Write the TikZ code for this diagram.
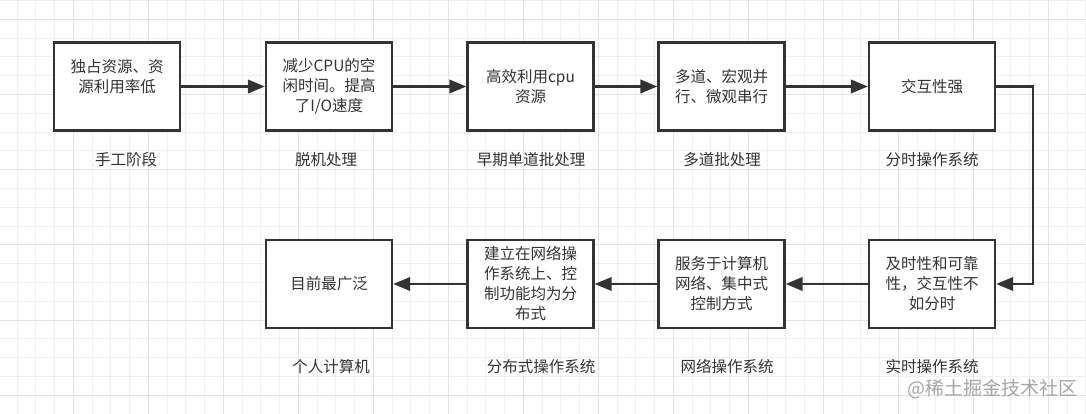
\documentclass[tikz,border=0pt]{standalone}
\usepackage{fontspec}
\setmainfont{Noto Sans CJK SC}
\usetikzlibrary{arrows.meta}
\definecolor{griglia}{HTML}{F0F0F0}
\definecolor{grigliamaj}{HTML}{E2E2E2}
\definecolor{tratto}{HTML}{333333}
\definecolor{testo}{HTML}{333333}
\tikzset{
	box/.style={draw=tratto, line width=2.4pt, fill=white, minimum width=126pt, minimum height=88pt, inner sep=0pt, align=center, text=testo, font=\fontsize{15.5}{20}\selectfont},
	caption/.style={text=testo, font=\fontsize{15.5}{20}\selectfont},
	freccia/.style={draw=tratto, line width=2.4pt, -{Triangle[length=17pt,width=13.5pt]}},
}
\begin{document}
\begin{tikzpicture}[x=1pt,y=-1pt]
		\useasboundingbox (0,0) rectangle (1086,414);
		\fill[white] (0,0) rectangle (1086,414);
		
		%GRIGLIA
		\foreach \i in {0,...,58} \draw[griglia, line width=1pt] ({-1.7+18.75*\i},0) -- ({-1.7+18.75*\i},414);
		\foreach \j in {0,...,22} \draw[griglia, line width=1pt] (0,{0.5+18.8*\j}) -- (1086,{0.5+18.8*\j});
		\foreach \i in {0,...,14} \draw[grigliamaj, line width=1pt] ({-1.7+75*\i},0) -- ({-1.7+75*\i},414);
		\foreach \j in {0,...,5} \draw[grigliamaj, line width=1pt] (0,{19.3+75.2*\j}) -- (1086,{19.3+75.2*\j});
		
		%RIQUADRI SOPRA
		\node[box] (manuale) at (117,86.5) {独占资源、资\\源利用率低\\\phantom{资}};
		\node[box] (offline) at (329,86.5) {减少CPU的空\\闲时间。提高\\了I/O速度};
		\node[box] (batch) at (530.5,86.5) {高效利用cpu\\资源};
		\node[box] (multi) at (721.5,86.5) {多道、宏观并\\行、微观串行};
		\node[box] (tempo) at (932,86.5) {交互性强};
		
		%RIQUADRI SOTTO
		\node[box] (reale) at (932,284) {及时性和可靠\\性，交互性不\\如分时};
		\node[box] (rete) at (721.5,284) {服务于计算机\\网络、集中式\\控制方式};
		\node[box] (distr) at (530.5,284) {建立在网络操\\作系统上、控\\制功能均为分\\布式};
		\node[box] (pc) at (329,284) {目前最广泛};
		
		%DIDASCALIE
		\node[caption] (lmanuale) at (126,160) {手工阶段};
		\node[caption] (loffline) at (326,160) {脱机处理};
		\node[caption] (lbatch) at (531,160) {早期单道批处理};
		\node[caption] (lmulti) at (722,160) {多道批处理};
		\node[caption] (ltempo) at (932,160) {分时操作系统};
		\node[caption] (lpc) at (331,367) {个人计算机};
		\node[caption] (ldistr) at (541,367) {分布式操作系统};
		\node[caption] (lrete) at (727,367) {网络操作系统};
		\node[caption] (lreale) at (932,367) {实时操作系统};
		
		%FRECCE
		\draw[freccia] (manuale) to (offline);
		\draw[freccia] (offline) to (batch);
		\draw[freccia] (batch) to (multi);
		\draw[freccia] (multi) to (tempo);
		\draw[freccia] (tempo.east) -- ++(37,0) |- (reale.east);
		\draw[freccia] (reale) to (rete);
		\draw[freccia] (rete) to (distr);
		\draw[freccia] (distr) to (pc);
		
		%FILIGRANA
		\node[text=black!35, font=\fontsize{19}{19}\selectfont] (filigrana) at (992,389) {@稀土掘金技术社区};
	\end{tikzpicture}
\end{document}
